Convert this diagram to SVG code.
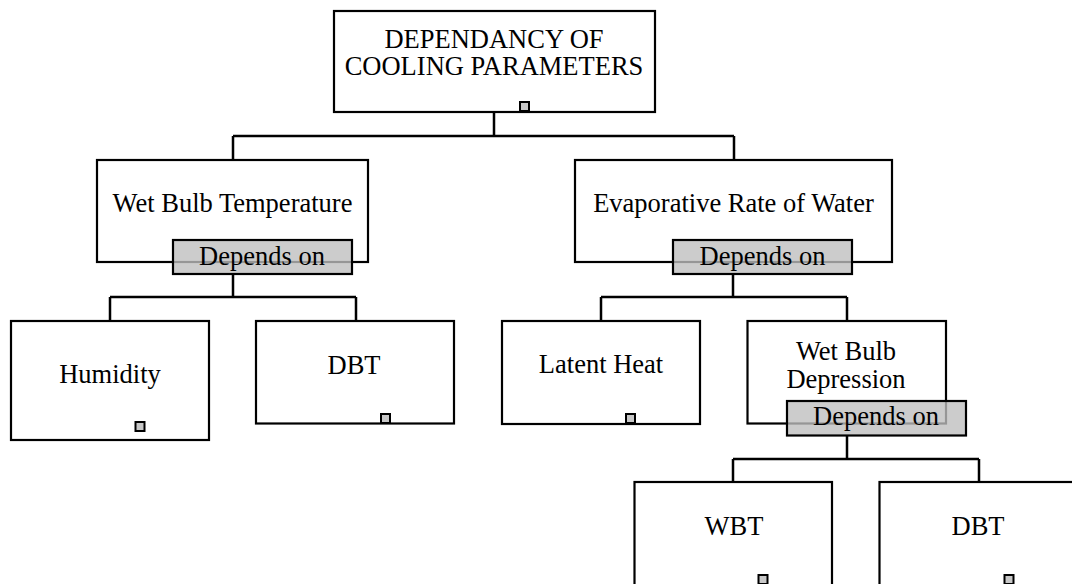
<svg xmlns="http://www.w3.org/2000/svg" width="1072" height="584" viewBox="0 0 1072 584">
<style>
.box{fill:#fff;stroke:#000;stroke-width:2.2}
.dep{fill:rgb(190,190,190);fill-opacity:0.79;stroke:#000;stroke-width:2.2}
.sq{fill:#c8c8c8;stroke:#000;stroke-width:2}
.t{font-family:"Liberation Serif","Times New Roman",serif;font-size:26.5px;fill:#000;text-anchor:middle}
.c{fill:none;stroke:#000;stroke-width:2.5}
</style>
<rect width="1072" height="584" fill="#fff"/>
<g id="connectors">
<path class="c" d="M494 112V136M233 136H734M233 136V160M734 136V160"/>
<path class="c" d="M233 274V297M110 297H356M110 297V321M356 297V321"/>
<path class="c" d="M733 274V297M601 297H847M601 297V321M847 297V321"/>
<path class="c" d="M847 435V459M733 459H979M733 459V482M979 459V482"/>
</g>
<g id="root">
<rect class="box" x="334" y="11" width="321" height="101"/>
<text class="t" x="494" y="48">DEPENDANCY OF</text>
<text class="t" x="494" y="75">COOLING PARAMETERS</text>
<rect class="sq" x="520" y="102" width="9" height="9"/>
</g>
<g id="wbt-main">
<rect class="box" x="97" y="160" width="271" height="102"/>
<text class="t" x="232.5" y="212">Wet Bulb Temperature</text>
</g>
<g id="dep1">
<rect class="dep" x="173" y="240" width="179" height="34"/>
<text class="t" x="262" y="265">Depends on</text>
</g>
<g id="evap">
<rect class="box" x="575" y="160" width="317" height="102"/>
<text class="t" x="733.5" y="212">Evaporative Rate of Water</text>
</g>
<g id="dep2">
<rect class="dep" x="673" y="240" width="179" height="34"/>
<text class="t" x="762.5" y="265">Depends on</text>
</g>
<g id="humidity">
<rect class="box" x="11" y="321" width="198" height="119"/>
<text class="t" x="110" y="382.5">Humidity</text>
<rect class="sq" x="135.5" y="422" width="9" height="9"/>
</g>
<g id="dbt1">
<rect class="box" x="256" y="321" width="198" height="102.5"/>
<text class="t" x="354" y="374">DBT</text>
<rect class="sq" x="381" y="414" width="9" height="9"/>
</g>
<g id="latent">
<rect class="box" x="502" y="321" width="198" height="103"/>
<text class="t" x="601" y="373">Latent Heat</text>
<rect class="sq" x="626" y="414" width="9" height="9"/>
</g>
<g id="wbd">
<rect class="box" x="747.5" y="321" width="198.5" height="102.5"/>
<text class="t" x="846" y="360">Wet Bulb</text>
<text class="t" x="846" y="387.5">Depression</text>
</g>
<g id="dep3">
<rect class="dep" x="787" y="401" width="179" height="34.5"/>
<text class="t" x="876" y="425">Depends on</text>
</g>
<g id="wbt">
<rect class="box" x="634.5" y="482" width="197.5" height="130"/>
<text class="t" x="734" y="535">WBT</text>
<rect class="sq" x="758.5" y="575" width="9" height="9"/>
</g>
<g id="dbt2">
<rect class="box" x="879.5" y="482" width="198" height="130"/>
<text class="t" x="978" y="535">DBT</text>
<rect class="sq" x="1004.5" y="575" width="9" height="9"/>
</g>
</svg>
